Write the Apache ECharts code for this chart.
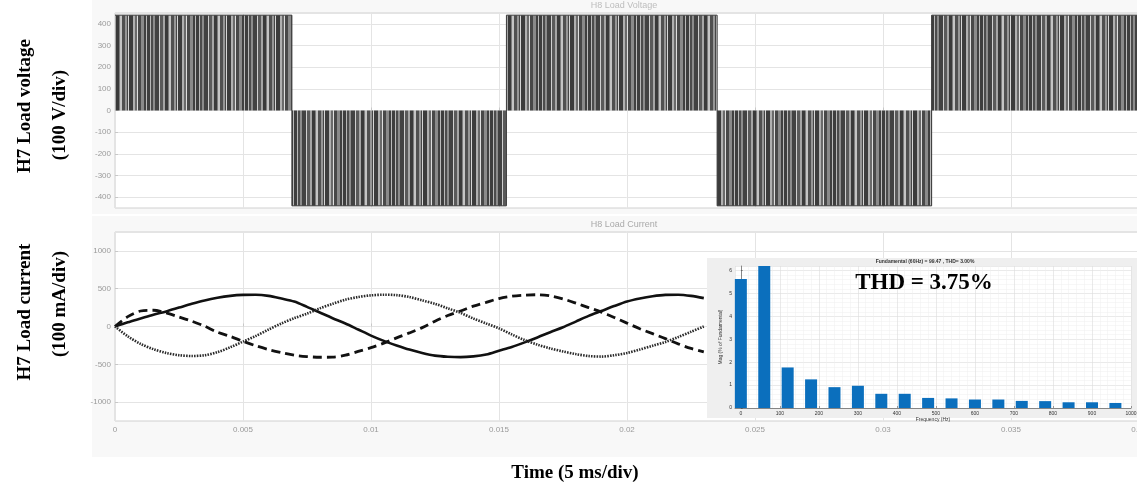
<!DOCTYPE html>
<html><head><meta charset="utf-8">
<script src="https://cdn.jsdelivr.net/npm/echarts@6/dist/echarts.min.js"></script>
<style>html,body{margin:0;padding:0;background:#fff}#c{width:1137px;height:488px}</style>
</head><body><div id="c"></div>
<script>
// ---- data ----
const voltTimes = [0, 0.00691, 0.01529, 0.02352, 0.0319, 0.04];      // s
const voltLevels = [440, -440, 440, -440, 440, 440];                   // V (PWM envelope)
const curTimesMs = [0,0.5,1,1.5,2,2.5,3,3.5,4,4.5,5,5.5,6,6.5,7,7.5,8,8.5,9,9.5,10,10.5,11,11.5,12,12.5,13,13.5,14,14.5,15,15.5,16,16.5,17,17.5,18,18.5,19,19.5,20,20.5,21,21.5,22,22.5,23];
const curSolid  = [0,55,105,155,200,250,300,345,380,405,418,420,405,370,330,260,185,110,40,-40,-120,-190,-250,-305,-350,-385,-400,-405,-395,-370,-320,-270,-210,-145,-75,-10,65,140,205,270,330,370,400,418,420,405,375];
const curDashed = [0,130,205,215,180,125,70,5,-75,-130,-195,-255,-305,-345,-380,-398,-407,-405,-380,-330,-280,-220,-150,-85,-15,70,145,205,270,320,370,400,415,420,405,365,310,250,190,120,45,-30,-95,-160,-230,-290,-335];
const curDotted = [0,-130,-230,-300,-350,-380,-390,-380,-340,-275,-200,-125,-40,40,110,170,240,300,355,390,412,420,415,390,345,300,240,180,105,40,-25,-105,-180,-240,-290,-330,-365,-390,-398,-380,-350,-305,-255,-205,-140,-70,0];
const harmFreq = [0,60,120,180,240,300,360,420,480,540,600,660,720,780,840,900,960];
const harmMag  = [5.63,6.5,1.77,1.25,0.91,0.97,0.62,0.62,0.44,0.42,0.37,0.37,0.31,0.30,0.25,0.25,0.22];

// ---- stripe texture for PWM blocks (style only) ----
const stripeStyle = [[3,'#3e3e3e'],[1,'#b8b8b8'],[2,'#4c4c4c'],[2,'#8c8c8c'],[4,'#424242'],[1,'#cfcfcf'],[3,'#5a5a5a'],[2,'#a5a5a5'],[3,'#3a3a3a'],[1,'#7c7c7c'],[2,'#c4c4c4'],[3,'#505050'],[2,'#969696'],[1,'#464646'],[1,'#d6d6d6'],[4,'#3c3c3c'],[2,'#b0b0b0'],[2,'#6a6a6a'],[1,'#dedede'],[3,'#484848'],[3,'#8a8a8a'],[2,'#404040'],[1,'#bababa']];
const pc = document.createElement('canvas');
let pw = 0; stripeStyle.forEach(s => pw += s[0]);
pc.width = pw; pc.height = 4;
const pctx = pc.getContext('2d');
let px = 0;
stripeStyle.forEach(s => { pctx.fillStyle = s[1]; pctx.fillRect(px, 0, s[0], 4); px += s[0]; });

const chart = echarts.init(document.getElementById('c'));
const plain = v => String(Math.round(v * 1e6) / 1e6);
const lblStyle = {color:'#9a9a9a', fontSize:8, fontFamily:'Liberation Sans', formatter: plain};
const split = {show:true, lineStyle:{color:'#e4e4e4', width:1}};
const tick = {show:true, inside:true, length:3, lineStyle:{color:'#c8c8c8'}};

const serif = 'Liberation Serif';
chart.setOption({
  animation:false,
  backgroundColor:'#ffffff',
  grid:[
    {left:115, top:13, width:1024, height:195, outerBoundsMode:'none', containLabel:false, show:true, backgroundColor:'#ffffff', borderColor:'#d0d0d0', borderWidth:1},
    {left:115, top:232, width:1024, height:189, outerBoundsMode:'none', containLabel:false, show:true, backgroundColor:'#ffffff', borderColor:'#d0d0d0', borderWidth:1},
    {left:735, top:266, width:396, height:142, outerBoundsMode:'none', containLabel:false, show:false, z:12}
  ],
  xAxis:[
    {gridIndex:0, type:'value', min:0, max:0.04, interval:0.005, axisLine:{show:false}, axisTick:tick, axisLabel:{show:false}, splitLine:split},
    {gridIndex:1, type:'value', min:0, max:0.04, interval:0.005, axisLine:{show:false}, axisTick:tick, axisLabel:Object.assign({margin:5}, lblStyle), splitLine:split},
    {gridIndex:2, type:'value', min:-15, max:1000, splitNumber:10, z:12,
      axisLine:{show:true, lineStyle:{color:'#444', width:0.6}}, axisTick:{show:true, inside:true, length:2, lineStyle:{color:'#444', width:0.5}},
      axisLabel:{color:'#333', fontSize:5, margin:3, showMinLabel:false, formatter: plain},
      splitLine:{show:true, lineStyle:{color:'#dcdcdc', width:0.6}},
      minorTick:{show:false, splitNumber:5}, minorSplitLine:{show:true, lineStyle:{color:'#efefef', width:0.5}},
      name:'Frequency (Hz)', nameLocation:'middle', nameGap:9, nameTextStyle:{fontSize:5, color:'#333'}}
  ],
  yAxis:[
    {gridIndex:0, type:'value', min:-450, max:450, splitNumber:9, axisLine:{show:false}, axisTick:tick,
      axisLabel:Object.assign({showMinLabel:false, showMaxLabel:false, margin:4}, lblStyle), splitLine:split},
    {gridIndex:1, type:'value', min:-1250, max:1250, splitNumber:5, axisLine:{show:false}, axisTick:tick,
      axisLabel:Object.assign({showMinLabel:false, showMaxLabel:false, margin:4}, lblStyle), splitLine:split},
    {gridIndex:2, type:'value', min:0, max:6.2, interval:1, z:12,
      axisLine:{show:true, lineStyle:{color:'#444', width:0.6}}, axisTick:{show:true, inside:true, length:2, lineStyle:{color:'#444', width:0.5}},
      axisLabel:{color:'#333', fontSize:5, margin:3, showMaxLabel:false},
      splitLine:{show:true, lineStyle:{color:'#dcdcdc', width:0.6}},
      minorSplitLine:{show:true, lineStyle:{color:'#efefef', width:0.5}},
      name:'Mag (% of Fundamental)', nameLocation:'middle', nameGap:12, nameTextStyle:{fontSize:5, color:'#333'}}
  ],
  series:[
    {type:'line', xAxisIndex:0, yAxisIndex:0, step:'end', symbol:'none',
      data: voltTimes.map((t,i)=>[t, voltLevels[i]]),
      lineStyle:{color:'#3a3a3a', width:1},
      areaStyle:{color:{image:pc, repeat:'repeat'}, opacity:1}},
    {type:'line', xAxisIndex:1, yAxisIndex:1, symbol:'none', smooth:0.3,
      data: curTimesMs.map((t,i)=>[t/1000, curSolid[i]]),
      lineStyle:{color:'#111', width:2.6}},
    {type:'line', xAxisIndex:1, yAxisIndex:1, symbol:'none', smooth:0.3,
      data: curTimesMs.map((t,i)=>[t/1000, curDashed[i]]),
      lineStyle:{color:'#111', width:2.8, type:[9,5]}},
    {type:'line', xAxisIndex:1, yAxisIndex:1, symbol:'none', smooth:0.3,
      data: curTimesMs.map((t,i)=>[t/1000, curDotted[i]]),
      lineStyle:{color:'#2a2a2a', width:2.6, type:[1.5,1.2]}},
    {type:'bar', xAxisIndex:2, yAxisIndex:2, z:13, barWidth:12, clip:true,
      data: harmFreq.map((f,i)=>[f, harmMag[i]]),
      itemStyle:{color:'#0b6fbd'}}
  ],
  graphic:{elements:[
    {type:'rect', z:-10, shape:{x:92, y:0, width:1045, height:214}, style:{fill:'#f8f8f8'}, silent:true},
    {type:'rect', z:-10, shape:{x:92, y:216, width:1045, height:241}, style:{fill:'#f8f8f8'}, silent:true},
    {type:'rect', z:10, shape:{x:707, y:258, width:432, height:160}, style:{fill:'#efefef'}, silent:true},
    {type:'rect', z:11, shape:{x:735, y:266, width:396, height:142}, style:{fill:'#ffffff'}, silent:true},
    {type:'text', z:15, x:925, y:262, style:{text:'Fundamental (60Hz) = 99.47 , THD= 3.00%', fontSize:5, fontWeight:'bold', fill:'#333', textAlign:'center', textVerticalAlign:'middle', fontFamily:'Liberation Sans'}},
    {type:'text', z:15, x:924, y:283, style:{text:'THD = 3.75%', fontSize:23, fontWeight:'bold', fill:'#000', textAlign:'center', textVerticalAlign:'middle', fontFamily:serif}},
    {type:'text', x:624, y:6, style:{text:'H8 Load Voltage', fontSize:9, fill:'#bdbdbd', textAlign:'center', textVerticalAlign:'middle', fontFamily:'Liberation Sans'}},
    {type:'text', x:624, y:225, style:{text:'H8 Load Current', fontSize:9, fill:'#aaaaaa', textAlign:'center', textVerticalAlign:'middle', fontFamily:'Liberation Sans'}},
    {type:'text', x:25, y:106, rotation:Math.PI/2, style:{text:'H7 Load voltage', fontSize:19, fontWeight:'bold', fill:'#000', textAlign:'center', textVerticalAlign:'middle', fontFamily:serif}},
    {type:'text', x:60, y:115, rotation:Math.PI/2, style:{text:'(100 V/div)', fontSize:19, fontWeight:'bold', fill:'#000', textAlign:'center', textVerticalAlign:'middle', fontFamily:serif}},
    {type:'text', x:25, y:312, rotation:Math.PI/2, style:{text:'H7 Load current', fontSize:19, fontWeight:'bold', fill:'#000', textAlign:'center', textVerticalAlign:'middle', fontFamily:serif}},
    {type:'text', x:60, y:304, rotation:Math.PI/2, style:{text:'(100 mA/div)', fontSize:19, fontWeight:'bold', fill:'#000', textAlign:'center', textVerticalAlign:'middle', fontFamily:serif}},
    {type:'text', x:575, y:473, style:{text:'Time (5 ms/div)', fontSize:19, fontWeight:'bold', fill:'#000', textAlign:'center', textVerticalAlign:'middle', fontFamily:serif}}
  ]}
});
</script></body></html>
